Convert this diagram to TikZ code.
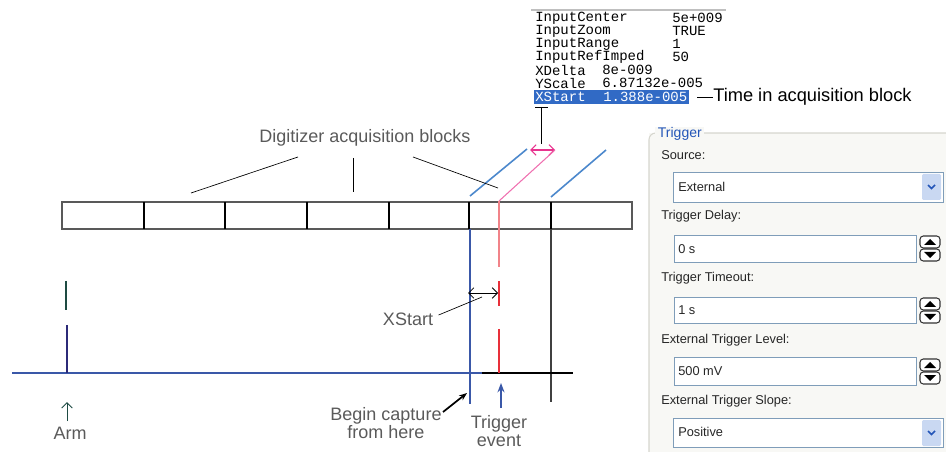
\documentclass[tikz,border=0pt]{standalone}
\usepackage{fontspec}
\setmainfont{Liberation Sans}
\setmonofont{Liberation Mono}
\usetikzlibrary{arrows.meta}
\definecolor{callgray}{HTML}{5A5A5A}
\definecolor{selblue}{HTML}{316AC5}
\definecolor{sigblue}{HTML}{3A58A8}
\definecolor{skyblue}{HTML}{4C88CC}
\definecolor{hotpink}{HTML}{E8338E}
\definecolor{sigred}{HTML}{E8303A}
\definecolor{armgreen}{HTML}{1E4B43}
\definecolor{armnavy}{HTML}{2C2A78}
\definecolor{xpborder}{HTML}{7F9DB9}
\definecolor{xptitle}{HTML}{2456B8}
\definecolor{panelbg}{HTML}{F8F8F5}
\definecolor{panelrule}{HTML}{D6D6CE}
\definecolor{dropfill}{HTML}{C9D8F2}
\tikzset{
  spinbtn/.pic={
    \draw[rounded corners=2.5pt, line width=0.8pt, draw=black!80, fill=white] (0,0) rectangle (20,12);
    \fill (4,9) -- (16,9) -- (10,3) -- cycle;
    \draw[rounded corners=2.5pt, line width=0.8pt, draw=black!80, fill=white] (0,13) rectangle (20,25);
    \fill (4,16) -- (16,16) -- (10,22) -- cycle;
  },
  dropbtn/.pic={
    \fill[dropfill, rounded corners=1pt] (0,0) rectangle (19,26);
    \draw[xptitle, line width=1.2pt] (6,11) -- (9.5,14.5) -- (13,11);
  }
}
\begin{document}
\begin{tikzpicture}[x=0.75pt, y=-0.75pt, >=Stealth,
  callout/.style={text=callgray, font=\fontsize{13.5}{13}\selectfont, align=center, inner sep=1pt},
  pointer/.style={black, line width=0.5pt},
  mono/.style={font=\ttfamily\fontsize{10.5}{12}\selectfont, anchor=west, inner sep=0pt},
  ui/.style={font=\fontsize{9.6}{11}\selectfont, text=black!85, anchor=west, inner sep=0pt},
  field/.style={draw=xpborder, fill=white, line width=0.6pt},
  divider/.style={black, line width=1.4pt}]
  \useasboundingbox (0,0) rectangle (946,452);

  % === parameter table ===
  \draw[gray!50, line width=0.8pt] (531,10) -- (726,10);
  \foreach \nm/\vl/\yy in {InputCenter/5e+009/18, InputZoom/TRUE/31, InputRange/1/44, InputRefImped/50/57} {
    \node[mono] at (535,\yy) {\nm};
    \node[mono] at (672,\yy) {\vl};
  }
  \node[mono] at (535,70) {XDelta};
  \node[mono] at (602,70) {8e-009};
  \node[mono] at (535,83) {YScale};
  \node[mono] at (602,83) {6.87132e-005};
  \fill[selblue] (534,90) rectangle (689,104);
  \node[mono, text=white] (xsname) at (535,97) {XStart};
  \node[mono, text=white] (xsval) at (603,97) {1.388e-005};
  \node[anchor=west, inner sep=0pt, font=\fontsize{13.7}{15}\selectfont] (tib) at (713,97) {Time in acquisition block};
  \coordinate (dashL) at (697,97);
  \draw[line width=0.7pt] (dashL) -- (tib.west);
  % T bracket down to the blocks
  \coordinate (tTop) at (541,107);
  \coordinate (tBot) at (541,144);
  \draw[line width=0.7pt] (535,107) -- (548,107);
  \draw[line width=0.7pt] (tTop) -- (tBot);

  % === acquisition blocks ===
  \draw[black!65, line width=1pt] (62,202) rectangle (632,229);
  \foreach \bx in {144,225,307,389,469,551}
    \draw[divider] (\bx,202) -- (\bx,229);
  \draw[skyblue, line width=1.2pt] (470,196) -- (527,149);
  \draw[skyblue, line width=1.2pt] (551,197) -- (606,150);
  \draw[hotpink, <->, >={Straight Barb[length=4pt]}, line width=0.8pt] (530,150) -- (555,150);
  \draw[hotpink!70, line width=0.8pt] (555,150) -- (499,201);
  \draw[sigred!60, line width=1pt] (499,201) -- (499,267);

  \node[callout] (blocks) at (365,138) {Digitizer acquisition blocks};
  \coordinate (bk1) at (191,193);
  \coordinate (bk2) at (353,192);
  \coordinate (bk3) at (498,188);
  \draw[pointer] ([shift={(-67,9)}]blocks.south) -- (bk1);
  \draw[pointer] ([shift={(-12,10)}]blocks.south) -- (bk2);
  \draw[pointer] ([shift={(48,9)}]blocks.south) -- (bk3);

  % === time line ===
  \draw[sigblue, line width=1.5pt] (469.5,229) -- (469.5,404);
  \draw[black!75, line width=0.8pt] (551,229) -- (551,402);
  \draw[sigblue, line width=1.3pt] (12,373) -- (482,373);
  \draw[black, line width=1.3pt] (482,373) -- (573,373);
  \draw[sigred, line width=1.6pt] (499,281) -- (499,306) (499,329) -- (499,373);
  \draw[armgreen, line width=1.6pt] (66,281) -- (66,310);
  \draw[armnavy, line width=1.6pt] (67,325) -- (67,373);

  % === labels below ===
  \node[callout] (arm) at (70,433) {Arm};
  \draw[armgreen, line width=0.6pt, ->, >={Straight Barb[length=4pt]}] ([shift={(-3,-4)}]arm.north) -- ++(0,-19);

  \node[callout] (xs) at (408,319) {XStart};
  \coordinate (xsTip) at (482,297);
  \draw[pointer] ([shift={(4,-4)}]xs.east) -- (xsTip);
  \coordinate (xsL) at (468,293);
  \coordinate (xsR) at (498,293);
  \draw[<->, >={Straight Barb[length=4pt]}, line width=0.6pt] (xsL) -- (xsR);

  \node[callout] (bcap) at (386,423) {Begin capture\\from here};
  \coordinate (bcapTip) at (467,393);
  \draw[line width=1.3pt, -{Stealth[length=6pt]}] (443,412) -- (bcapTip);

  \node[callout] (tev) at (499,431) {Trigger\\event};
  \draw[sigblue, line width=1.5pt, -{Stealth[length=7pt]}] (501,408) -- (501,383);

  % === trigger panel ===
  \fill[panelbg] (649,133) rectangle (946,452);
  \draw[panelrule, line width=0.8pt, rounded corners=5pt] (649,452) -- (649,133) -- (946,133);
  \node[ui, text=xptitle, fill=panelbg, inner xsep=2pt, font=\fontsize{10.5}{12}\selectfont] (trigttl) at (655,134) {Trigger};
  \node[ui] (srclbl) at (661,155) {Source:};
  \node[ui] (dlylbl) at (661,216) {Trigger Delay:};
  \node[ui] (tmolbl) at (661,278) {Trigger Timeout:};
  \node[ui] (lvllbl) at (661,340) {External Trigger Level:};
  \node[ui] (slplbl) at (661,401) {External Trigger Slope:};

  \draw[field] (673,172) rectangle (943,202);
  \pic at (922,174) {dropbtn};
  \node[ui] (srcval) at (678,187) {External};
  \draw[field] (674,235) rectangle (916,262);
  \pic at (920,236) {spinbtn};
  \node[ui] (dlyval) at (678,249) {0 s};
  \draw[field] (674,297) rectangle (916,323);
  \pic at (920,298) {spinbtn};
  \node[ui] (tmoval) at (678,310) {1 s};
  \draw[field] (674,357) rectangle (916,385);
  \pic at (920,359) {spinbtn};
  \node[ui] (lvlval) at (678,371) {500 mV};
  \draw[field] (673,418) rectangle (943,447);
  \pic at (922,420) {dropbtn};
  \node[ui] (slpval) at (678,432) {Positive};
\end{tikzpicture}
\end{document}
